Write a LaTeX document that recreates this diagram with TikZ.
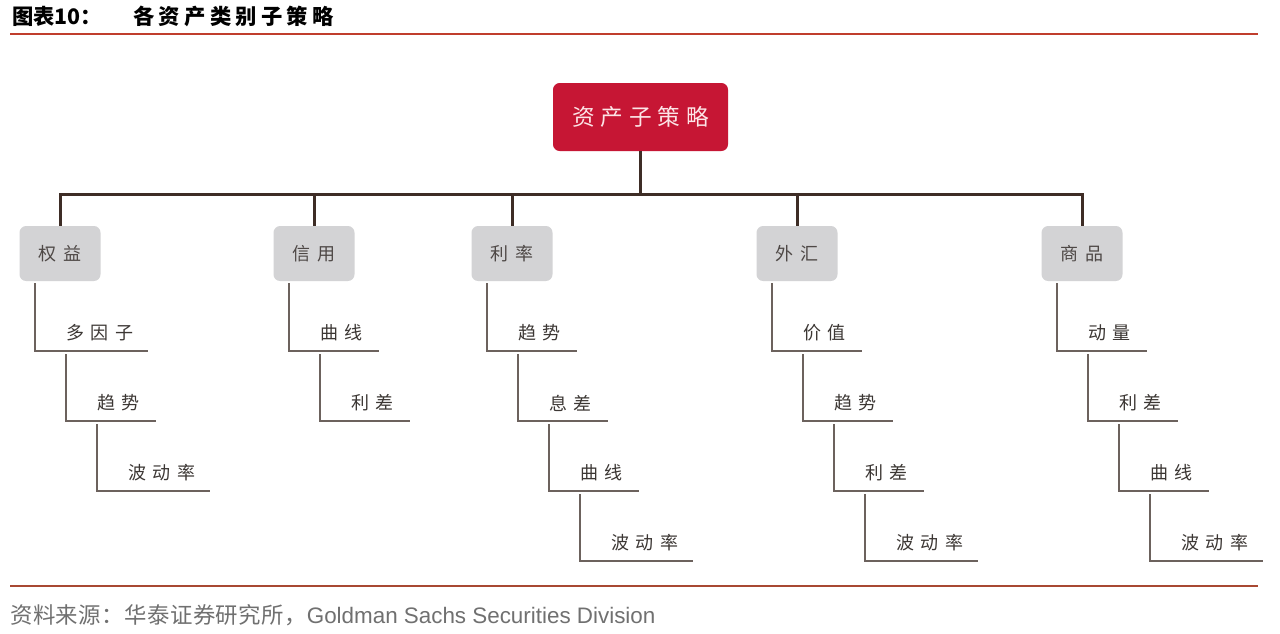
\documentclass[tikz,border=0pt]{standalone}
\usepackage{fontspec}
\setmainfont{Liberation Sans}
\newfontfamily\cjk{Noto Sans CJK SC}
\newfontfamily\cjkls[LetterSpace=36]{Noto Sans CJK SC}
\newcommand{\cgap}{\hspace{0.42em}}
\newcommand{\rgap}{\hspace{0.26em}}
\definecolor{rootred}{RGB}{198,22,52}
\definecolor{rootfg}{RGB}{252,228,230}
\definecolor{catgray}{RGB}{211,211,213}
\definecolor{cattext}{RGB}{78,72,70}
\definecolor{busc}{RGB}{62,45,38}
\definecolor{leafc}{RGB}{108,98,93}
\definecolor{leaftext}{RGB}{60,55,52}
\definecolor{rulered}{RGB}{192,62,45}
\definecolor{footrule}{RGB}{168,72,50}
\definecolor{foottext}{RGB}{112,112,112}
\tikzset{
  rootbox/.style={fill=rootred, rounded corners=5pt, minimum width=131.25pt, minimum height=51pt,
    text=rootfg, inner sep=0pt, font=\cjk\fontsize{17pt}{17pt}\selectfont},
  catbox/.style={fill=catgray, rounded corners=5pt, minimum width=60.75pt, minimum height=41.25pt,
    text=cattext, inner sep=0pt, font=\cjk\fontsize{13.5pt}{13.5pt}\selectfont},
  leaf/.style={anchor=west, inner sep=0pt, text=leaftext, font=\cjkls\fontsize{13.5pt}{13.5pt}\selectfont},
  busline/.style={draw=busc, line width=2.25pt, line join=miter},
  leafline/.style={draw=leafc, line width=1.5pt, line join=miter},
}
\begin{document}
\begin{tikzpicture}[x=0.75pt,y=-0.75pt]
\useasboundingbox (0,0) rectangle (1280,633);
\fill[white] (0,0) rectangle (1280,633);
% title
\node[anchor=west, inner sep=0pt, font=\cjk\bfseries\fontsize{16pt}{16pt}\selectfont] (title1) at (12,16) {图表10：};
\node[anchor=west, inner sep=0pt, font=\cjk\bfseries\fontsize{16pt}{16pt}\selectfont\addfontfeature{LetterSpace=20}] (title2) at (133,16) {各资产类别子策略};
\draw[rulered, line width=1.2pt] (10,34) -- (1258,34);
% root
\node[rootbox] (root) at (640.5,117) {资\rgap 产\rgap 子\rgap 策\rgap 略};
\coordinate (busL) at (59,194);
% categories and leaves
\foreach \cx/\cat/\nm/\leaves in {
 60/{权\cgap 益}/eq/{多因子/113,趋势/90,波动率/113},
 314/{信\cgap 用}/cr/{曲线/90,利差/90},
 512/{利\cgap 率}/ir/{趋势/90,息差/90,曲线/90,波动率/113},
 797/{外\cgap 汇}/fx/{价值/90,趋势/90,利差/90,波动率/113},
 1082/{商\cgap 品}/cm/{动量/90,利差/90,曲线/90,波动率/113}}
{
  \node[catbox] (\nm) at (\cx,253.5) {\cat};
  \foreach \lab/\len [count=\k] in \leaves {
     \pgfmathsetmacro\vx{\cx-25+31*(\k-1)}
     \pgfmathsetmacro\ly{351+70*(\k-1)}
     \pgfmathsetmacro\sy{\k==1 ? 283 : \ly-67}
     \coordinate (\nm-s\k) at (\vx,\sy);
     \coordinate (\nm-c\k) at (\vx,\ly);
     \coordinate (\nm-e\k) at (\vx+\len,\ly);
     \node[leaf] (\nm-l\k) at (\vx+31,\ly-18) {\lab};
     \draw[leafline] (\nm-s\k) -- (\nm-c\k) -- (\nm-e\k);
  }
}
% bus
\draw[busline] (root.south) -- (root.south |- busL);
\draw[busline] (eq.north) -- (eq.north |- busL) -- (cm.north |- busL) -- (cm.north);
\draw[busline] (cr.north |- busL) -- (cr.north);
\draw[busline] (ir.north |- busL) -- (ir.north);
\draw[busline] (fx.north |- busL) -- (fx.north);
% footer
\draw[footrule, line width=1.5pt] (10,586) -- (1258,586);
\node[anchor=west, inner sep=0pt, text=foottext, font=\fontsize{16.8pt}{16.8pt}\selectfont] (source) at (10,615) {{\cjk\addfontfeature{LetterSpace=2} 资料来源：华泰证券研究所，}Goldman Sachs Securities Division};
\end{tikzpicture}
\end{document}
